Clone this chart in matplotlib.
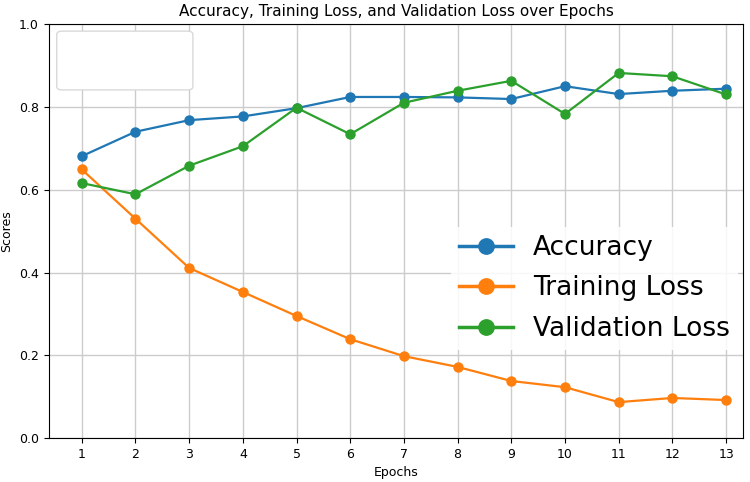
import matplotlib.pyplot as plt
from matplotlib.patches import FancyBboxPatch

epochs = list(range(1, 14))
accuracy = [0.681, 0.740, 0.768, 0.777, 0.797, 0.824, 0.824, 0.823, 0.819, 0.850, 0.831, 0.839, 0.844]
training_loss = [0.649, 0.530, 0.411, 0.353, 0.295, 0.239, 0.198, 0.172, 0.138, 0.123, 0.087, 0.097, 0.092]
validation_loss = [0.616, 0.589, 0.658, 0.705, 0.798, 0.734, 0.810, 0.839, 0.863, 0.783, 0.882, 0.874, 0.830]

fig = plt.figure(figsize=(7.5, 4.82), dpi=100)
ax = fig.add_axes([0.065, 0.091, 0.926, 0.859])

ax.plot(epochs, accuracy, 'o-', color='#1f77b4', lw=1.6, ms=6.5, label='Accuracy')
ax.plot(epochs, training_loss, 'o-', color='#ff7f0e', lw=1.6, ms=6.5, label='Training Loss')
ax.plot(epochs, validation_loss, 'o-', color='#2ca02c', lw=1.6, ms=6.5, label='Validation Loss')

ax.set_xlim(0.385, 13.32)
ax.set_ylim(0, 1.0)
ax.set_xticks(epochs)
ax.set_yticks([0.0, 0.2, 0.4, 0.6, 0.8, 1.0])
ax.tick_params(labelsize=9)
ax.grid(True, color='#cccccc', lw=1.0)
ax.set_xlabel('Epochs', fontsize=9)
ax.set_ylabel('Scores', fontsize=9)
ax.set_title('Accuracy, Training Loss, and Validation Loss over Epochs', fontsize=11)

# empty legend box in the top-left corner
box = FancyBboxPatch((0.0115, 0.841), 0.196, 0.142, boxstyle='round,pad=0,rounding_size=0.008',
                     transform=ax.transAxes, facecolor='white', edgecolor='#d9d9d9', lw=1, zorder=5)
ax.add_patch(box)

leg = ax.legend(loc='center right', bbox_to_anchor=(1.0, 0.362), fontsize=19, markerscale=1.7,
                handlelength=2.05, handletextpad=0.75, labelspacing=0.55, borderpad=0.3,
                borderaxespad=0.2, frameon=True, framealpha=0.85, edgecolor='none', facecolor='white')
for line in leg.get_lines():
    line.set_linewidth(2.5)

fig.savefig('out.png', dpi=100)
